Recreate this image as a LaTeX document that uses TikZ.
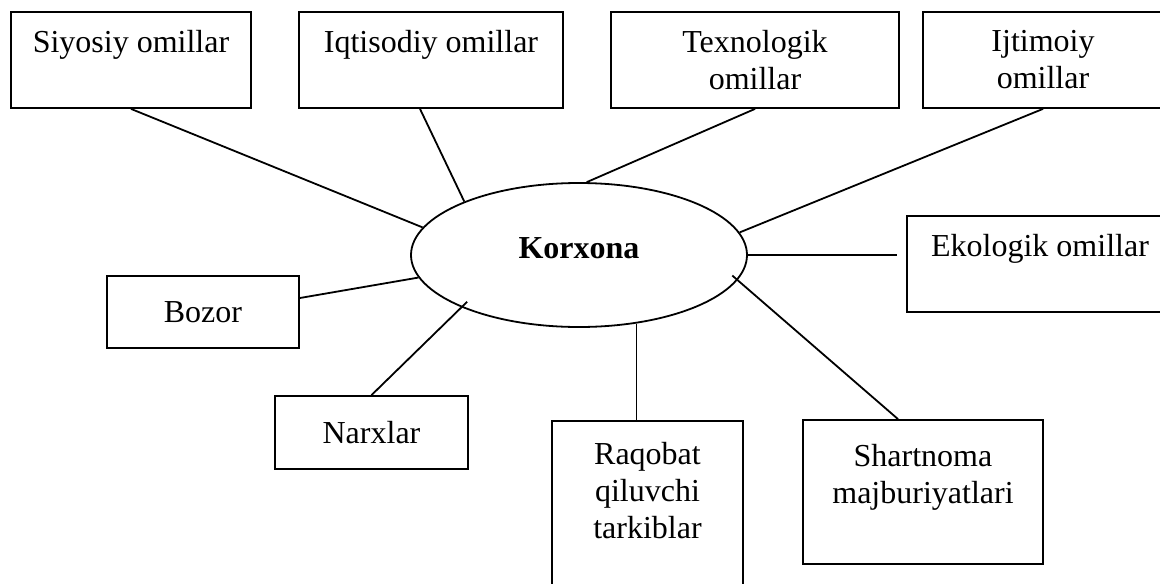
\documentclass[tikz,border=0pt]{standalone}
\usepackage{fontspec}
\setmainfont{Liberation Serif}
\usetikzlibrary{shapes.geometric, calc}

\begin{document}
\begin{tikzpicture}[
    x=1pt, y=-1pt,
    every node/.style={font=\fontsize{32}{37}\selectfont, align=center, inner sep=0pt},
    box/.style={rectangle, draw, line width=1.8pt},
    hub/.style={ellipse, draw, line width=1.8pt, minimum width=336pt, minimum height=144pt,
        text depth=14pt, font=\fontsize{32}{37}\selectfont\bfseries},
    link/.style={line width=1.8pt}
]
\useasboundingbox (0,0) rectangle (1160,584);

% centre
\node[hub] (korxona) at (579,255) {Korxona};

% top row
\node[box, minimum width=240pt, minimum height=96pt] (siyosiy) at (131,60) {Siyosiy omillar\\\mbox{}};
\node[box, minimum width=264pt, minimum height=96pt] (iqtisodiy) at (431,60) {Iqtisodiy omillar\\\mbox{}};
\node[box, minimum width=288pt, minimum height=96pt] (texnologik) at (755,60) {Texnologik\\omillar};
\node[box, minimum width=240pt, minimum height=96pt] (ijtimoiy) at (1043,60) {Ijtimoiy\\omillar};

% sides and bottom
\node[box, minimum width=266pt, minimum height=96pt] (ekologik) at (1040,264) {Ekologik omillar\\\mbox{}};
\node[box, minimum width=192pt, minimum height=72pt] (bozor) at (203,312) {Bozor};
\node[box, minimum width=193pt, minimum height=73pt] (narxlar) at (371.5,432.5) {Narxlar};
\node[box, minimum width=191pt, minimum height=175pt, anchor=north] (raqobat) at (647.5,420) {Raqobat\\qiluvchi\\tarkiblar\\\mbox{}};
\node[box, minimum width=240pt, minimum height=144pt] (shartnoma) at (923,492) {Shartnoma\\majburiyatlari\\\mbox{}};

% connectors
\draw[link] (siyosiy.south) -- (korxona.170);
\draw[link] ([xshift=-11pt]iqtisodiy.south) -- (korxona.155);
\draw[link] (texnologik.south) -- (korxona.84);
\draw[link] (ijtimoiy.south) -- (korxona.8);
\draw[link, shorten >=9pt] (korxona.east) -- (korxona.east -| ekologik.west);
\draw[link] ([yshift=14pt]bozor.east) -- (korxona.188);
\draw[link, shorten >=-8pt] (narxlar.north) -- (korxona.204);
\draw[link] (korxona.310) -- (korxona.310 |- raqobat.north);
\draw[link, shorten >=-7pt] ([xshift=-25pt]shartnoma.north) -- (korxona.351);
\end{tikzpicture}
\end{document}
